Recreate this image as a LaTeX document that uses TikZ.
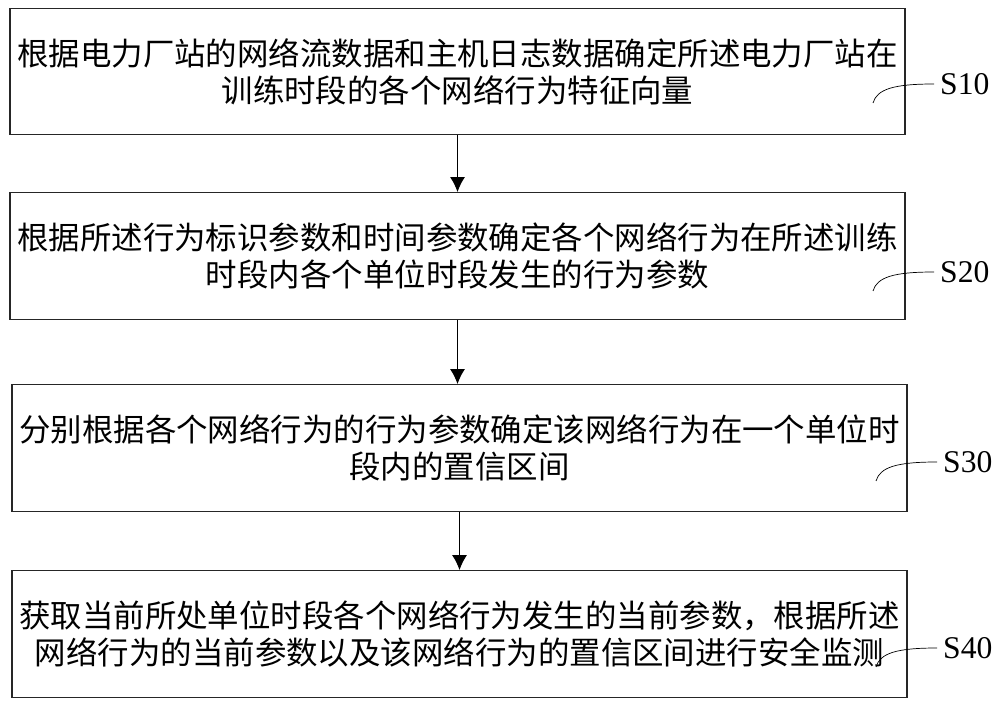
\documentclass[tikz,border=0pt]{standalone}
\usepackage{fontspec}
\setmainfont{Liberation Serif}
\newfontfamily\cjk{Noto Sans CJK SC}
\usetikzlibrary{arrows.meta}

\begin{document}
\begin{tikzpicture}[x = 0.02cm, y = -0.02cm,
	> = {Latex[length = 8.5pt, width = 8.5pt]},
	stepbox/.style = {draw = black!85, line width = 0.8pt, minimum width = 17.9cm,
		minimum height = 2.53cm, align = center,
		font = \cjk\fontsize{17.9pt}{21pt}\selectfont},
	steplabel/.style = {anchor = west, font = \fontsize{18pt}{21pt}\selectfont}]

	\useasboundingbox (0, 0) rectangle (1000, 705);

	% Steps
	
	\node [stepbox] (s10) at (457.5, 71.5) {根据电力厂站的网络流数据和主机日志数据确定所述电力厂站在\\训练时段的各个网络行为特征向量};
	\node [stepbox] (s20) at (457.5, 256) {根据所述行为标识参数和时间参数确定各个网络行为在所述训练\\时段内各个单位时段发生的行为参数};
	\node [stepbox] (s30) at (459.5, 448) {分别根据各个网络行为的行为参数确定该网络行为在一个单位时\\段内的置信区间};
	\node [stepbox] (s40) at (459.5, 634) {获取当前所处单位时段各个网络行为发生的当前参数，根据所述\\网络行为的当前参数以及该网络行为的置信区间进行安全监测};
	
	% Flow
	
	\begin{scope}[line width = 0.6pt]
	
		\draw [->] (s10) -- (s20);
		\draw [->] (s20) -- (s20 |- s30.north);
		\draw [->] (s30) -- (s40);
	
	\end{scope}
	
	% Step labels
	
	\node [steplabel] (l10) at (934, 84) {S10};
	\node [steplabel] (l20) at (934, 272) {S20};
	\node [steplabel] (l30) at (937, 462) {S30};
	\node [steplabel] (l40) at (937, 648) {S40};
	
	\coordinate (c10) at (873, 103);
	\coordinate (c20) at (873, 291);
	\coordinate (c30) at (876, 481);
	\coordinate (c40) at (876, 667);
	
	\draw (l10.west) .. controls +(-40, 0) and +(4, -14) .. (c10);
	\draw (l20.west) .. controls +(-40, 0) and +(4, -14) .. (c20);
	\draw (l30.west) .. controls +(-40, 0) and +(4, -14) .. (c30);
	\draw (l40.west) .. controls +(-40, 0) and +(4, -14) .. (c40);

\end{tikzpicture}
\end{document}
